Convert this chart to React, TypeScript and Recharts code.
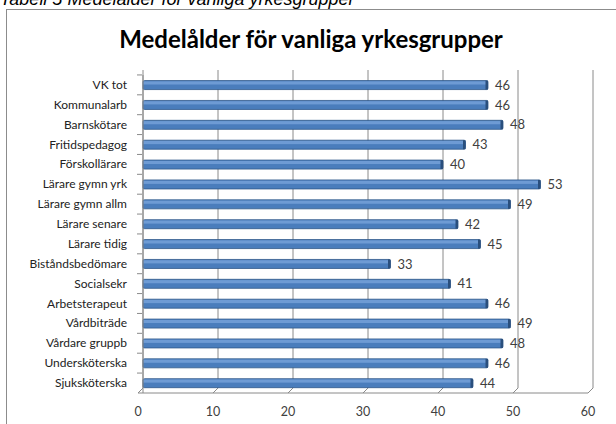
import { BarChart, Bar, XAxis, YAxis, CartesianGrid, LabelList } from 'recharts';

const categories = [
  'VK tot',
  'Kommunalarb',
  'Barnskötare',
  'Fritidspedagog',
  'Förskollärare',
  'Lärare gymn yrk',
  'Lärare gymn allm',
  'Lärare senare',
  'Lärare tidig',
  'Biståndsbedömare',
  'Socialsekr',
  'Arbetsterapeut',
  'Vårdbiträde',
  'Vårdare gruppb',
  'Undersköterska',
  'Sjuksköterska',
];

const ages = [46, 46, 48, 43, 40, 53, 49, 42, 45, 33, 41, 46, 49, 48, 46, 44];

const xTicks = [0, 10, 20, 30, 40, 50, 60];

const data = categories.map((name, i) => ({ name, age: ages[i] }));

const FONT = 'Lato, "Open Sans", sans-serif';
const DEPTH = 5;
const AXIS_Y = 393;

const XTick = (props: any) => {
  const { x, payload, index } = props;
  return (
    <g>
      {index === 0 && (
        <line x1={x - DEPTH} y1={AXIS_Y} x2={x - DEPTH + 450} y2={AXIS_Y} stroke="#8a8a8a" />
      )}
      <line x1={x - DEPTH} y1={AXIS_Y} x2={x} y2={AXIS_Y - DEPTH} stroke="#8a8a8a" />
      <text x={x - DEPTH} y={AXIS_Y + 23} textAnchor="middle" fontSize={12.5} fill="#404040" fontFamily={FONT}>
        {payload.value}
      </text>
    </g>
  );
};

const YTick = (props: any) => {
  const { y, payload } = props;
  return (
    <g>
      <line x1={137} y1={y - 10} x2={142} y2={y - 10} stroke="#8a8a8a" />
      <text x={127} y={y + 4} textAnchor="end" fontSize={12} fill="#222" fontFamily={FONT}>
        {payload.value}
      </text>
    </g>
  );
};

const GridLine = (props: any) => {
  const { x1, x2, y1, y2 } = props;
  return <line x1={x1} x2={x2} y1={y1 - DEPTH} y2={y2 - DEPTH} stroke="#8a8a8a" strokeWidth={1} />;
};

const renderBar = (props: any) => {
  const { x, y, width, height } = props;
  if (width == null || height == null) return <g />;
  return (
    <g>
      <rect x={x} y={y} width={width} height={height} rx={1.5} fill="#4a7dbc" stroke="#2f5889" strokeWidth={0.8} />
      <rect x={x + 0.5} y={y + 0.8} width={Math.max(width - 1, 0)} height={height * 0.35} fill="#6e9bd4" />
      <rect x={x + width - 2.5} y={y} width={2.5} height={height} fill="#2a4f7d" />
    </g>
  );
};

export default function App() {
  return (
    <div style={{ position: 'absolute', left: 0, top: 0, width: 616, height: 424, background: '#fff', overflow: 'hidden' }}>
      <div
        style={{
          position: 'absolute',
          left: 0,
          top: -11,
          fontFamily: '"Liberation Sans", Arial, sans-serif',
          fontStyle: 'italic',
          fontSize: 18,
          color: '#000',
          whiteSpace: 'nowrap',
        }}
      >
        Tabell 5 Medelålder för vanliga yrkesgrupper
      </div>
      <div
        style={{
          position: 'absolute',
          left: 6,
          top: 9,
          width: 616,
          height: 430,
          border: '1px solid #8c8c8c',
          boxSizing: 'border-box',
        }}
      />
      <div
        style={{
          position: 'absolute',
          left: 0,
          width: 622,
          top: 24,
          textAlign: 'center',
          fontFamily: FONT,
          fontWeight: 700,
          fontSize: 24,
          color: '#000',
          whiteSpace: 'nowrap',
        }}
      >
        Medelålder för vanliga yrkesgrupper
      </div>
      <div style={{ position: 'absolute', left: 0, top: 0 }}>
        <BarChart
          width={616}
          height={424}
          data={data}
          layout="vertical"
          margin={{ top: 75, right: 23, left: 10, bottom: 6 }}
          barCategoryGap="28%"
        >
          <CartesianGrid horizontal={false} vertical={<GridLine />} />
          <XAxis
            type="number"
            domain={[0, 60]}
            ticks={xTicks}
            axisLine={false}
            tickLine={false}
            height={25}
            tick={<XTick />}
          />
          <YAxis
            type="category"
            dataKey="name"
            width={133}
            axisLine={{ stroke: '#8a8a8a' }}
            tickLine={false}
            tick={<YTick />}
            interval={0}
          />
          <Bar dataKey="age" isAnimationActive={false} fill="#4a7dbc" shape={renderBar}>
            <LabelList
              dataKey="age"
              position="right"
              offset={7}
              fontSize={13}
              fill="#404040"
              fontFamily={FONT}
            />
          </Bar>
        </BarChart>
      </div>
    </div>
  );
}
